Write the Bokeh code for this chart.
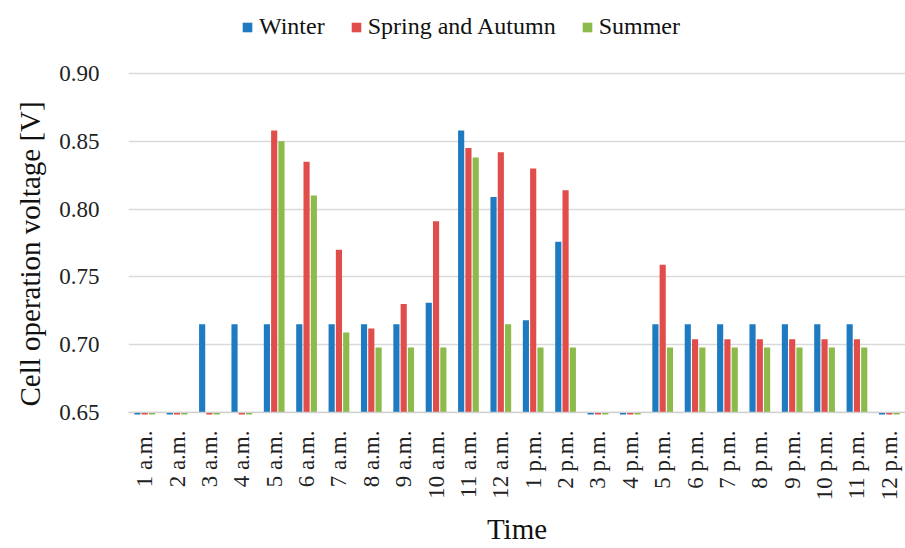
from bokeh.plotting import figure
from bokeh.models import (ColumnDataSource, FactorRange, FixedTicker, Legend, LegendItem, Span,
                          CustomJSTickFormatter, Title)
from bokeh.transform import dodge
from bokeh.embed import file_html
from bokeh.resources import INLINE
import math

hours = ["1 a.m.", "2 a.m.", "3 a.m.", "4 a.m.", "5 a.m.", "6 a.m.", "7 a.m.", "8 a.m.",
         "9 a.m.", "10 a.m.", "11 a.m.", "12 a.m.", "1 p.m.", "2 p.m.", "3 p.m.", "4 p.m.",
         "5 p.m.", "6 p.m.", "7 p.m.", "8 p.m.", "9 p.m.", "10 p.m.", "11 p.m.", "12 p.m."]

winter = [0.0, 0.0, 0.715, 0.715, 0.715, 0.715, 0.715, 0.715, 0.715, 0.731, 0.858, 0.809,
          0.718, 0.776, 0.0, 0.0, 0.715, 0.715, 0.715, 0.715, 0.715, 0.715, 0.715, 0.0]
spring_autumn = [0.0, 0.0, 0.0, 0.0, 0.858, 0.835, 0.770, 0.712, 0.730, 0.791, 0.845, 0.842,
                 0.830, 0.814, 0.0, 0.0, 0.759, 0.704, 0.704, 0.704, 0.704, 0.704, 0.704, 0.0]
summer = [0.0, 0.0, 0.0, 0.0, 0.850, 0.810, 0.709, 0.698, 0.698, 0.698, 0.838, 0.715,
          0.698, 0.698, 0.0, 0.0, 0.698, 0.698, 0.698, 0.698, 0.698, 0.698, 0.698, 0.0]

y_ticks = [0.65, 0.70, 0.75, 0.80, 0.85, 0.90]
series_names = ["Winter", "Spring and Autumn", "Summer"]
colors = ["#1F7BC1", "#E04D4B", "#8CBA4B"]

FONT = "Liberation Serif, Times New Roman, serif"

src = ColumnDataSource(dict(hour=hours, w=winter, s=spring_autumn, su=summer))

p = figure(x_range=FactorRange(*hours), y_range=(0.6485, 0.9539),
           width=905, height=548, output_backend="svg", toolbar_location=None,
           min_border_left=127, min_border_right=0, min_border_top=0, min_border_bottom=134)

renderers = []
for col, off, c in zip(["w", "s", "su"], [-0.225, 0.0, 0.225], colors):
    r = p.vbar(x=dodge("hour", off, range=p.x_range), top=col, bottom=0.65, width=0.19,
               source=src, fill_color=c, line_color=None)
    renderers.append(r)

p.add_layout(Span(location=0.65, dimension="width", line_color="#d0d0d0", line_width=1.3))

legend = Legend(items=[LegendItem(label=n, renderers=[r]) for n, r in zip(series_names, renderers)],
                orientation="horizontal", location=(113, 374),
                label_text_font=FONT, label_text_font_size="24px", label_text_color="#111111",
                glyph_width=12, glyph_height=12, label_standoff=6, spacing=25,
                padding=0, margin=0, border_line_color=None, background_fill_alpha=0)
p.add_layout(legend, "center")

p.outline_line_color = None
p.background_fill_color = "white"
p.xgrid.grid_line_color = None
p.ygrid.grid_line_color = "#d9d9d9"
p.ygrid.grid_line_width = 1.3

p.yaxis.ticker = FixedTicker(ticks=y_ticks)
p.yaxis.formatter = CustomJSTickFormatter(code="return tick.toFixed(2);")
p.yaxis.axis_line_color = None
p.yaxis.major_tick_line_color = None
p.yaxis.minor_tick_line_color = None
p.yaxis.major_label_text_font = FONT
p.yaxis.major_label_text_font_size = "23px"
p.yaxis.major_label_text_color = "#222222"
p.yaxis.major_label_standoff = 23

ytitle = Title(text="Cell operation voltage [V]", align="left", offset=8, standoff=22,
               text_font=FONT, text_font_size="29px", text_font_style="normal",
               text_color="#111111")
p.add_layout(ytitle, "left")

p.xaxis.axis_line_color = None
p.xaxis.major_tick_line_color = None
p.xaxis.minor_tick_line_color = None
p.xaxis.major_label_orientation = math.pi / 2
p.xaxis.major_label_text_font = FONT
p.xaxis.major_label_text_font_size = "23px"
p.xaxis.major_label_text_color = "#222222"
p.xaxis.major_label_standoff = 10
p.xaxis.axis_label = "Time"
p.xaxis.axis_label_text_font = FONT
p.xaxis.axis_label_text_font_size = "29px"
p.xaxis.axis_label_text_font_style = "normal"
p.xaxis.axis_label_text_color = "#111111"
p.xaxis.axis_label_standoff = 10

open("out.html", "w").write(file_html(p, INLINE))
